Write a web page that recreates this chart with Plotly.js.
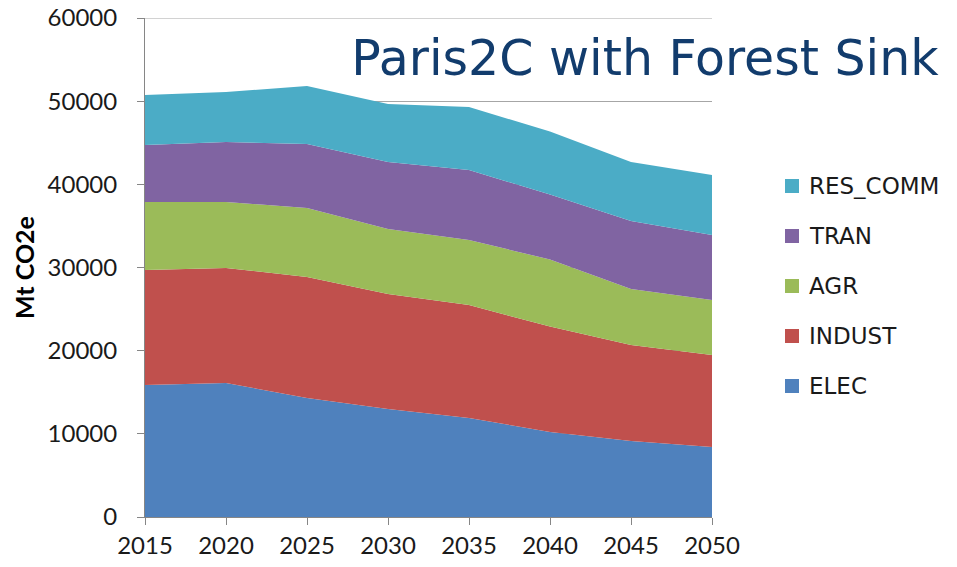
<!DOCTYPE html>
<html>
<head>
<meta charset="utf-8">
<script src="https://cdn.plot.ly/plotly-3.0.1.min.js"></script>
<style>
  html, body { margin: 0; padding: 0; background: #ffffff; }
  #chart { width: 957px; height: 567px; }
</style>
</head>
<body>
<div id="chart"></div>
<script>
// Emissions by sector, Mt CO2e, stacked from bottom (ELEC) to top (RES_COMM)
const years = [2015, 2020, 2025, 2030, 2035, 2040, 2045, 2050];

const ELEC     = [15870, 16110, 14310, 12990, 11900, 10220, 9140, 8420];
const INDUST   = [13830, 13830, 14550, 13820, 13590, 12680, 11540, 11060];
const AGR      = [8170, 7930, 8290, 7820, 7820, 8060, 6730, 6610];
const TRAN     = [6860, 7220, 7700, 8050, 8410, 7820, 8180, 7820];
const RES_COMM = [6010, 6010, 6970, 6980, 7580, 7570, 7090, 7210];

const seriesNames  = ['ELEC', 'INDUST', 'AGR', 'TRAN', 'RES_COMM'];
const seriesValues = [ELEC, INDUST, AGR, TRAN, RES_COMM];
const seriesColors = ['#4f81bd', '#c0504d', '#9bbb59', '#8064a2', '#4bacc6'];

const yTicks = [0, 10000, 20000, 30000, 40000, 50000, 60000];

const W = 957, H = 567;
const M = { l: 145, r: 245, t: 18, b: 50 };
const plotW = W - M.l - M.r, plotH = H - M.t - M.b;
const pxX = px => (px - M.l) / plotW;
const pxY = py => (H - M.b - py) / plotH;

const traces = seriesNames.map((name, i) => ({
  type: 'scatter',
  x: years,
  y: seriesValues[i],
  name: name,
  stackgroup: 'sectors',
  mode: 'none',
  fillcolor: seriesColors[i],
  line: { width: 0, shape: 'linear' },
  showlegend: false,
  hoverinfo: 'x+y+name'
}));

const shapes = [];
const annotations = [];

// Gridline along the top of the value range
shapes.push({
  type: 'line', xref: 'paper', yref: 'y', layer: 'below',
  x0: 0, x1: 1,
  y0: yTicks[yTicks.length - 1], y1: yTicks[yTicks.length - 1],
  line: { color: '#a6a6a6', width: 1 }
});

// Legend drawn as swatches + labels, top entry first
const legendTop = 186, legendStep = 50, swatch = 14, swatchLeft = 785, textLeft = 807;
for (let k = 0; k < seriesNames.length; k++) {
  const i = seriesNames.length - 1 - k;
  const cy = legendTop + k * legendStep;
  shapes.push({
    type: 'rect', xref: 'paper', yref: 'paper',
    x0: pxX(swatchLeft), x1: pxX(swatchLeft + swatch),
    y0: pxY(cy + swatch / 2), y1: pxY(cy - swatch / 2),
    fillcolor: seriesColors[i], line: { width: 0 }
  });
  annotations.push({
    xref: 'paper', yref: 'paper',
    x: pxX(textLeft), y: pxY(cy),
    xanchor: 'left', yanchor: 'middle',
    text: seriesNames[i], showarrow: false,
    font: { family: 'DejaVu Sans, Verdana, sans-serif', size: 23, color: '#1a1a1a' }
  });
}

const tickFont = { family: 'Lato, Open Sans, sans-serif', size: 24, color: '#1a1a1a' };

const layout = {
  width: W, height: H,
  margin: M,
  paper_bgcolor: '#ffffff',
  plot_bgcolor: '#ffffff',
  showlegend: false,
  title: {
    text: 'Paris2C with Forest Sink',
    xref: 'container', yref: 'container',
    x: 645 / W, y: 1 - 58 / H,
    xanchor: 'center', yanchor: 'middle',
    font: { family: 'DejaVu Sans, Verdana, sans-serif', size: 49, color: '#123c6d' }
  },
  xaxis: {
    type: 'linear',
    range: [years[0], years[years.length - 1]],
    tickmode: 'array',
    tickvals: years,
    ticktext: years.map(String),
    ticks: 'outside', ticklen: 7, tickwidth: 1, tickcolor: '#868686',
    showline: true, linecolor: '#868686', linewidth: 1,
    showgrid: false, zeroline: false,
    tickfont: tickFont,
    fixedrange: true
  },
  yaxis: {
    range: [yTicks[0], yTicks[yTicks.length - 1]],
    tickmode: 'array',
    tickvals: yTicks,
    ticktext: yTicks.map(String),
    ticks: 'outside', ticklen: 7, tickwidth: 1, tickcolor: '#868686',
    ticklabelstandoff: 15,
    showline: true, linecolor: '#868686', linewidth: 1,
    showgrid: true, gridcolor: '#a6a6a6', gridwidth: 1,
    zeroline: false,
    tickfont: tickFont,
    title: {
      text: 'Mt CO2e',
      standoff: 5,
      font: { family: 'Lato, Open Sans, sans-serif', size: 25, color: '#000000', weight: 'bold' }
    },
    automargin: false,
    fixedrange: true
  },
  shapes: shapes,
  annotations: annotations
};

Plotly.newPlot('chart', traces, layout, { displayModeBar: false, staticPlot: true });
</script>
</body>
</html>
